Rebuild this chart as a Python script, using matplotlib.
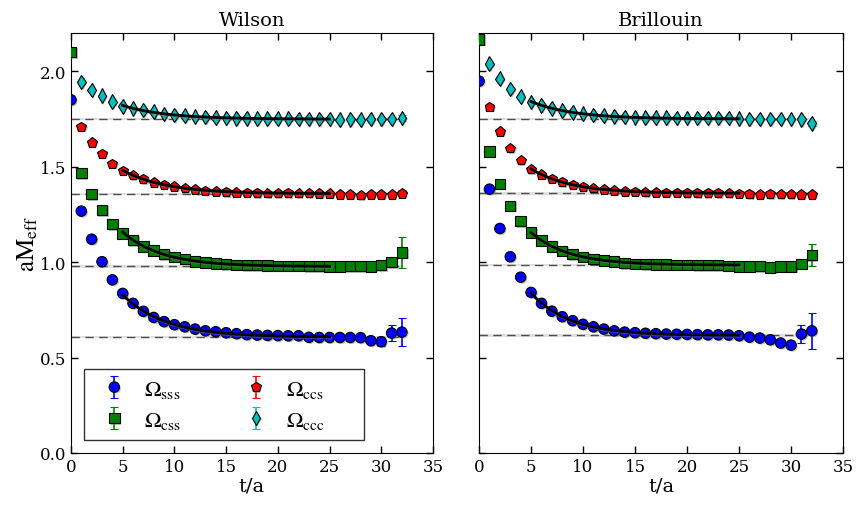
import numpy as np
import matplotlib
matplotlib.use("Agg")
import matplotlib.pyplot as plt
import matplotlib.patheffects as pe

plt.rcParams['font.family'] = 'DejaVu Serif'
plt.rcParams['mathtext.fontset'] = 'stix'

t = np.arange(33)
nan = np.nan

# Wilson
w_sss = [1.85, 1.267, 1.120, 1.002, 0.907, 0.836, 0.784, 0.742, 0.710, 0.688, 0.672, 0.661, 0.649,
         0.640, 0.635, 0.630, 0.625, 0.620, 0.618, 0.616, 0.615, 0.614, 0.614, 0.606, 0.605, 0.605,
         0.605, 0.605, 0.604, 0.588, 0.583, 0.628, 0.633]
w_css = [2.10, 1.466, 1.357, 1.272, 1.199, 1.150, 1.115, 1.082, 1.061, 1.042, 1.028, 1.017, 1.002,
         0.998, 0.993, 0.990, 0.986, 0.985, 0.984, 0.982, 0.981, 0.980, 0.980, 0.979, 0.978, 0.977,
         0.977, 0.978, 0.978, 0.977, 0.984, 1.000, 1.051]
w_ccs = [nan, 1.709, 1.627, 1.567, 1.515, 1.478, 1.455, 1.435, 1.417, 1.405, 1.396, 1.387, 1.380,
         1.373, 1.370, 1.367, 1.365, 1.363, 1.362, 1.361, 1.361, 1.362, 1.361, 1.361, 1.360, 1.360,
         1.353, 1.353, 1.350, 1.353, 1.353, 1.355, 1.360]
w_ccc = [nan, 1.944, 1.902, 1.871, 1.841, 1.815, 1.805, 1.797, 1.787, 1.776, 1.771, 1.766, 1.762,
         1.760, 1.757, 1.755, 1.754, 1.753, 1.752, 1.752, 1.751, 1.751, 1.750, 1.750, 1.750, 1.750,
         1.746, 1.747, 1.746, 1.750, 1.750, 1.750, 1.755]
w_err = {
    'sss': [0.002] * 28 + [0.006, 0.010, 0.020, 0.040, 0.073],
    'css': [0.002] * 28 + [0.005, 0.008, 0.012, 0.020, 0.080],
    'ccs': [0.002] * 28 + [0.003, 0.004, 0.006, 0.008, 0.015],
    'ccc': [0.002] * 28 + [0.003, 0.004, 0.006, 0.008, 0.018],
}
w_plateau = {'sss': 0.607, 'css': 0.977, 'ccs': 1.358, 'ccc': 1.749}

# Brillouin
b_sss = [1.948, 1.382, 1.176, 1.028, 0.921, 0.841, 0.784, 0.743, 0.714, 0.693, 0.674, 0.661, 0.649,
         0.640, 0.633, 0.630, 0.627, 0.625, 0.623, 0.622, 0.621, 0.620, 0.619, 0.619, 0.618, 0.614,
         0.607, 0.602, 0.593, 0.576, 0.565, 0.623, 0.640]
b_css = [2.167, 1.579, 1.410, 1.295, 1.215, 1.155, 1.112, 1.082, 1.059, 1.042, 1.028, 1.016, 1.009,
         1.002, 0.995, 0.991, 0.990, 0.988, 0.987, 0.986, 0.986, 0.985, 0.985, 0.984, 0.980, 0.977,
         0.977, 0.979, 0.971, 0.977, 0.977, 0.991, 1.037]
b_ccs = [nan, 1.813, 1.684, 1.597, 1.534, 1.487, 1.459, 1.436, 1.419, 1.405, 1.394, 1.387, 1.380,
         1.375, 1.370, 1.368, 1.366, 1.364, 1.363, 1.363, 1.362, 1.362, 1.362, 1.362, 1.361, 1.358,
         1.357, 1.355, 1.357, 1.356, 1.356, 1.353, 1.354]
b_ccc = [nan, 2.040, 1.961, 1.906, 1.867, 1.839, 1.822, 1.806, 1.794, 1.784, 1.778, 1.771, 1.766,
         1.764, 1.760, 1.758, 1.757, 1.756, 1.756, 1.755, 1.755, 1.755, 1.755, 1.755, 1.755, 1.751,
         1.750, 1.750, 1.750, 1.750, 1.750, 1.748, 1.726]
b_err = {
    'sss': [0.002] * 28 + [0.006, 0.008, 0.015, 0.048, 0.093],
    'css': [0.002] * 28 + [0.004, 0.006, 0.008, 0.012, 0.060],
    'ccs': [0.002] * 28 + [0.003, 0.004, 0.005, 0.006, 0.010],
    'ccc': [0.002] * 28 + [0.003, 0.004, 0.005, 0.006, 0.012],
}
b_plateau = {'sss': 0.616, 'css': 0.984, 'ccs': 1.360, 'ccc': 1.750}

names = ['sss', 'css', 'ccs', 'ccc']
labels = [r'$\Omega_{\rm sss}$', r'$\Omega_{\rm css}$', r'$\Omega_{\rm ccs}$', r'$\Omega_{\rm ccc}$']
colors = ['b', 'g', 'r', 'c']
markers = ['o', 's', 'p', 'd']
fit_range = (5, 25)

shadow = [pe.SimplePatchShadow(offset=(1, -1), shadow_rgbFace='0.45', alpha=0.45), pe.Normal()]
lshadow = [pe.SimpleLineShadow(offset=(1, -1), shadow_color='0.5', alpha=0.4), pe.Normal()]

fig = plt.figure(figsize=(8.57, 5.06), dpi=100)
ax1 = fig.add_axes([0.0828, 0.1028, 0.4224, 0.830])
ax2 = fig.add_axes([0.5590, 0.1028, 0.4247, 0.830])


def panel(ax, data, errs, plateaus, title):
    handles = []
    for n, lab, c, m in zip(names, labels, colors, markers):
        y = np.array(data[n], dtype=float)
        e = np.array(errs[n])
        p = plateaus[n]
        # plateau band + dashed line
        ax.fill_between([0, 32], p - 0.006, p + 0.006, color='0.88', lw=0, zorder=1)
        ax.plot([0, 32], [p, p], ls='--', color='0.3', lw=1.0, dashes=(6, 4), zorder=2)
        h = ax.errorbar(t, y, yerr=e, fmt=m, color=c, mfc=c, mec='k', mew=0.8, ms=7.5,
                        ecolor=c, elinewidth=1.2, capsize=3, capthick=1.2, label=lab, zorder=3)
        h[0].set_path_effects(shadow)
        handles.append(h)
        # exponential fit to the approach to the plateau
        sel = (t >= fit_range[0]) & (t <= 12)
        k, b = np.polyfit(t[sel], np.log(np.clip(y[sel] - p, 1e-4, None)), 1)
        tf = np.linspace(fit_range[0], fit_range[1], 200)
        ax.plot(tf, p + np.exp(b + k * tf), color='k', lw=2, zorder=4, path_effects=lshadow)
    ax.set_xlim(0, 35)
    ax.set_ylim(0, 2.2)
    ax.set_xticks(np.arange(0, 36, 5))
    ax.set_yticks(np.arange(0, 2.01, 0.5))
    ax.tick_params(direction='in', top=True, right=True, length=5, width=1, labelsize=12)
    ax.set_title(title, fontsize=14)
    ax.set_xlabel('t/a', fontsize=14, labelpad=1)
    return handles


hs = panel(ax1, {'sss': w_sss, 'css': w_css, 'ccs': w_ccs, 'ccc': w_ccc}, w_err, w_plateau, 'Wilson')
panel(ax2, {'sss': b_sss, 'css': b_css, 'ccs': b_ccs, 'ccc': b_ccc}, b_err, b_plateau, 'Brillouin')
ax1.yaxis.set_major_formatter(plt.FormatStrFormatter('%.1f'))
ax2.tick_params(labelleft=False)
ax1.set_ylabel(r'$\mathrm{aM_{eff}}$', fontsize=18, labelpad=0)

leg_labels = labels[:2] + [lab + '     ' for lab in labels[2:]]
leg = ax1.legend(hs, leg_labels, loc='lower left', ncol=2, fontsize=16, frameon=True, fancybox=False,
                 edgecolor='k', borderaxespad=0.6, columnspacing=2.4, handlelength=1.9,
                 handletextpad=0.4, labelspacing=0.4, borderpad=0.4)
leg.get_frame().set_linewidth(1.0)

fig.savefig('out.png', dpi=100)
